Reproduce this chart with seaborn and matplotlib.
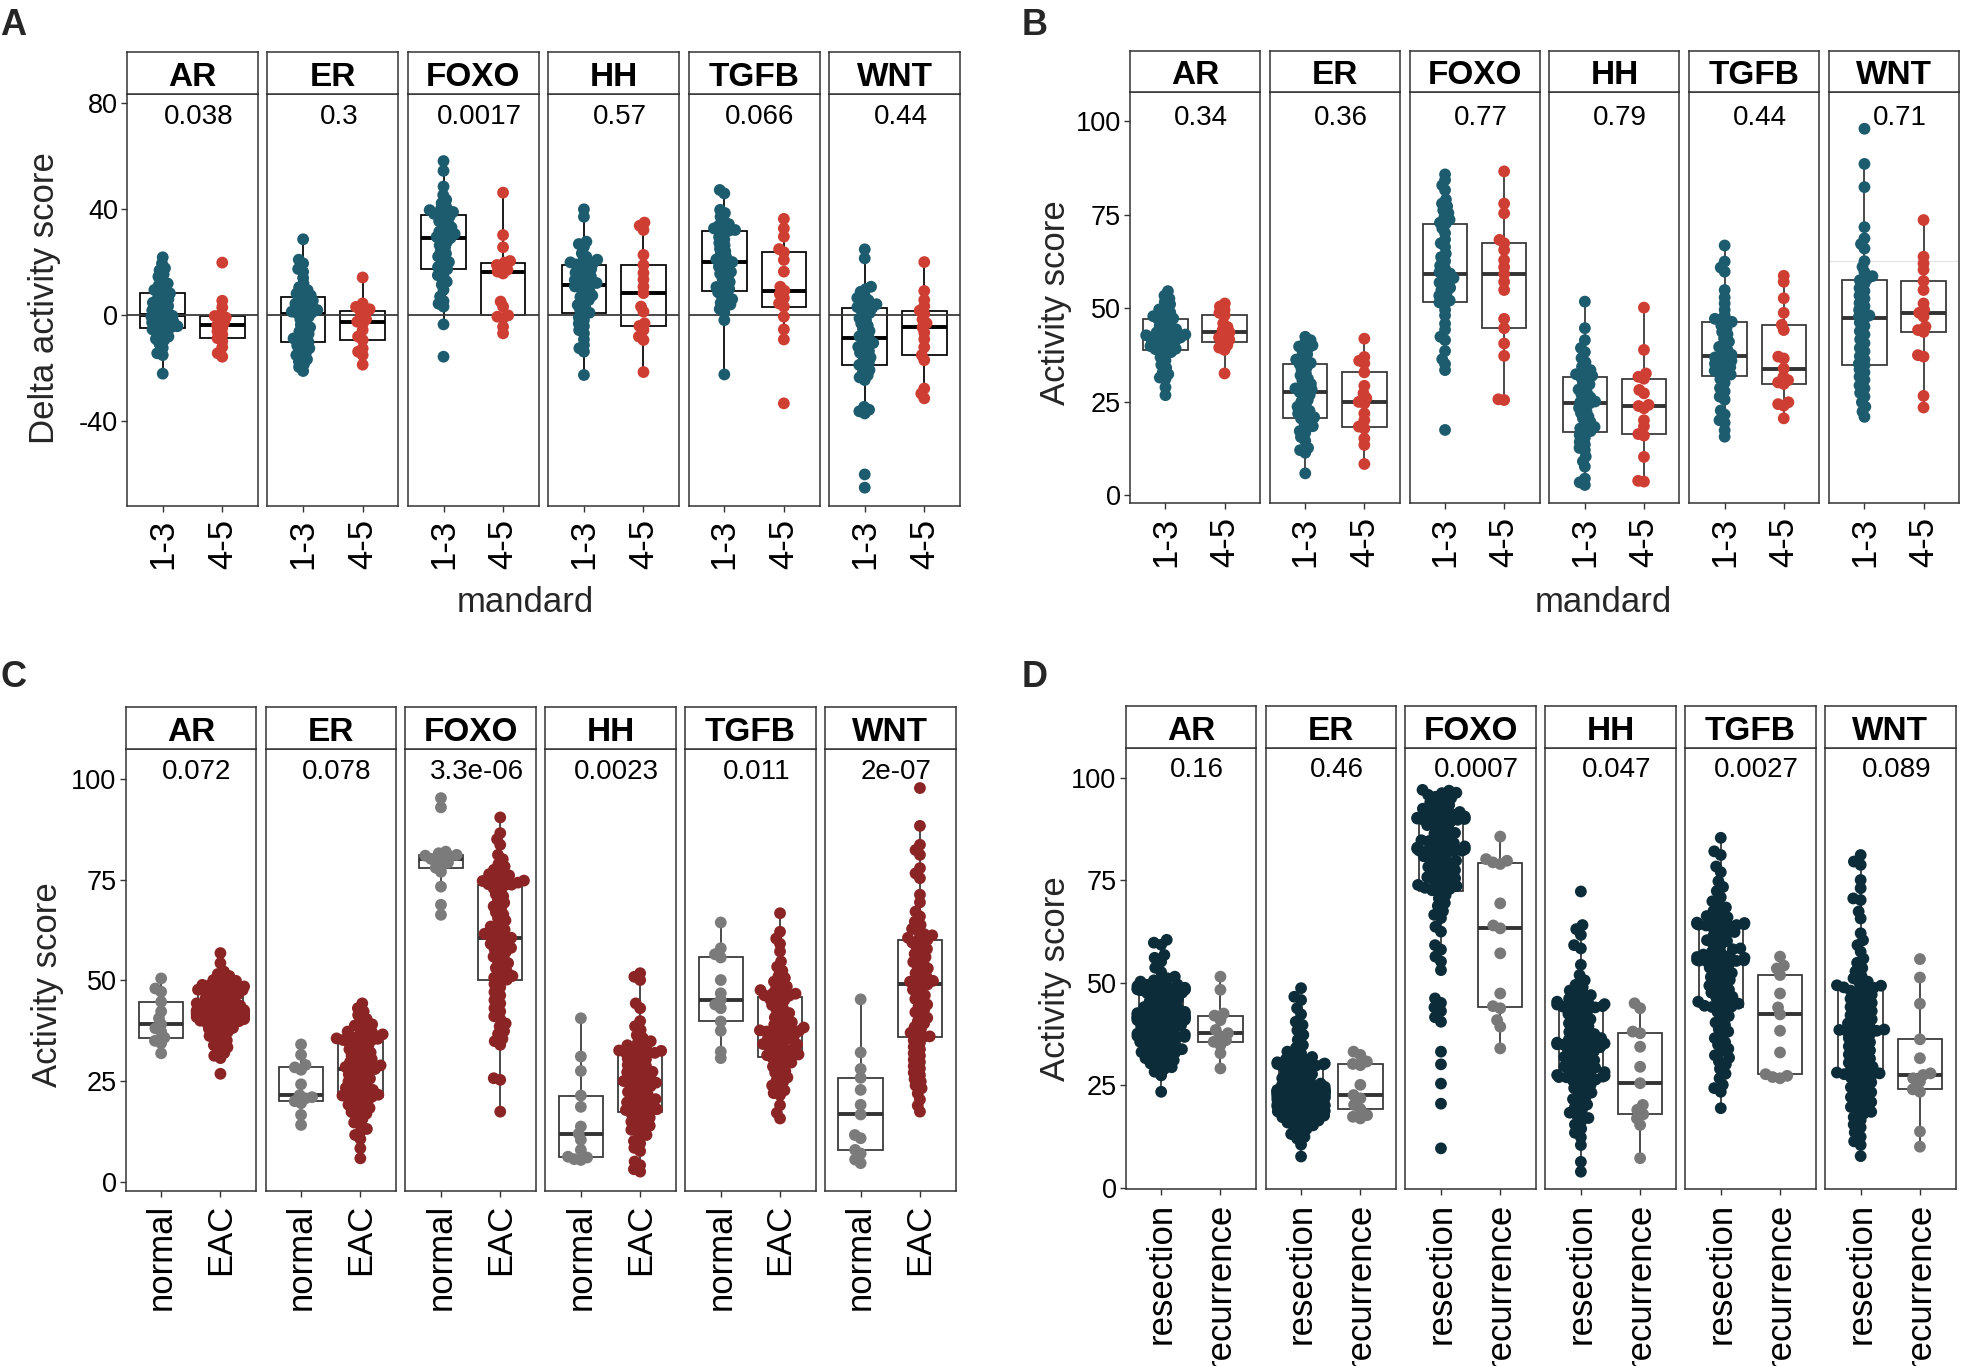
import pandas as pd
import matplotlib
matplotlib.use("Agg")
import matplotlib.pyplot as plt
import seaborn as sns

pathways = ["AR", "ER", "FOXO", "HH", "TGFB", "WNT"]

# ---- panel A: delta activity score by mandard ----
mandard = ["1-3", "4-5"]
a_pvals = ["0.038", "0.3", "0.0017", "0.57", "0.066", "0.44"]
a_ar_13 = [21.9, 19.6, 17.8, 17.0, 15.5, 14.6, 13.2, 12.0, 11.3, 10.4, 9.6, 8.9,
           8.3, 7.6, 6.9, 6.1, 5.6, 4.8, 4.1, 3.5, 2.7, 1.9, 1.3, 0.7,
           0.25, -0.2, -0.5, -1.1, -1.4, -2.0, -2.4, -2.7, -3.3, -3.6, -4.1, -4.4,
           -4.7, -5.3, -5.8, -6.6, -7.1, -8.0, -8.9, -9.4, -10.6, -12.3, -14.3, -15.0, -22.0]
a_ar_45 = [19.9, 5.5, 3.0, 0.5, -0.25, -0.8, -1.5, -2.8, -3.8, -4.8, -6.0, -7.2, -8.6,
           -9.8, -12.0, -14.3, -15.6]
a_er_13 = [28.7, 21.0, 19.6, 17.5, 16.4, 14.1, 12.0, 10.6, 9.5, 8.8, 8.2, 7.5,
           7.0, 6.4, 5.5, 4.9, 4.4, 3.6, 3.2, 2.4, 2.0, 1.4, 1.1, 0.8,
           0.5, -0.6, -1.5, -2.4, -3.6, -4.5, -5.2, -6.1, -7.0, -7.7, -8.7, -9.4,
           -10.1, -10.9, -11.4, -12.4, -13.0, -14.1, -15.0, -15.6, -16.6, -17.4, -18.4, -19.5, -21.0]
a_er_45 = [14.3, 4.5, 3.2, 2.3, 1.8, 0.8, -0.5, -1.5, -2.4, -3.2, -5.5, -8.0, -9.3,
           -12.5, -13.7, -15.0, -18.6]
a_foxo_13 = [58.2, 54.5, 48.6, 45.4, 43.6, 42.3, 41.0, 40.1, 39.7, 39.0, 38.7, 38.3,
             38.0, 37.3, 36.6, 35.5, 34.9, 33.9, 33.2, 32.2, 31.6, 30.7, 30.3, 29.6,
             29.2, 28.4, 27.6, 26.4, 25.6, 24.2, 23.3, 22.2, 21.4, 20.1, 19.3, 18.2,
             17.4, 16.6, 15.1, 14.6, 12.7, 11.6, 9.6, 7.1, 5.4, 4.4, 3.3, -3.4, -15.6]
a_foxo_45 = [46.3, 30.3, 25.7, 20.5, 19.9, 19.0, 18.0, 17.2, 16.5, 15.8, 5.2, 3.3, 0.0,
             -0.5, -1.0, -4.3, -6.8]
a_hh_13 = [40.0, 37.2, 27.8, 26.9, 25.9, 23.4, 22.1, 21.0, 20.4, 20.0, 19.6, 19.2,
           19.0, 18.4, 17.5, 17.0, 16.1, 15.6, 14.7, 14.1, 13.3, 12.9, 12.2, 11.9,
           11.6, 10.9, 10.3, 9.3, 8.6, 7.5, 6.9, 5.8, 5.1, 3.9, 3.1, 2.0,
           1.0, 0.4, -0.8, -1.8, -3.1, -4.1, -5.6, -6.8, -9.1, -11.2, -12.4, -13.7, -22.5]
a_hh_45 = [35.0, 33.8, 32.2, 22.8, 19.0, 16.0, 13.5, 10.8, 8.4, 3.3, 1.4, -3.0, -4.0,
           -5.5, -8.0, -9.3, -21.4]
a_tgfb_13 = [47.3, 46.0, 39.8, 38.6, 37.2, 35.6, 34.4, 33.9, 33.1, 32.8, 32.2, 32.0,
             31.7, 30.9, 29.5, 28.6, 27.3, 26.4, 25.1, 24.2, 22.9, 22.1, 21.1, 20.6,
             20.1, 19.4, 18.3, 17.5, 16.4, 15.7, 14.6, 13.8, 12.6, 11.8, 10.7, 10.0,
             9.3, 8.7, 7.7, 7.1, 6.1, 5.6, 4.7, 4.1, 3.3, 2.4, 1.1, -1.8, -22.3]
a_tgfb_45 = [36.4, 32.8, 29.7, 25.0, 23.8, 20.9, 16.5, 10.8, 9.3, 8.0, 6.5, 4.5, 3.3,
             -0.5, -5.3, -9.1, -33.2]
a_wnt_13 = [24.9, 21.5, 10.8, 9.9, 8.9, 7.4, 6.6, 5.7, 5.1, 4.2, 3.8, 3.1,
            2.8, 2.1, 0.9, 0.1, -1.1, -1.9, -3.1, -3.9, -5.1, -5.9, -7.1, -7.9,
            -8.7, -9.4, -10.4, -10.9, -11.9, -12.5, -13.5, -14.1, -15.1, -15.9, -17.1, -17.9,
            -18.7, -19.4, -20.6, -21.4, -22.6, -23.4, -24.4, -34.5, -35.6, -36.2, -37.0, -60.0, -65.0]
a_wnt_45 = [20.1, 9.2, 5.8, 3.5, 1.8, 0.5, -1.5, -3.0, -4.5, -6.5, -9.0, -12.0, -15.0,
            -16.9, -27.6, -29.5, -31.3]

# ---- panel B: activity score by mandard ----
b_pvals = ["0.34", "0.36", "0.77", "0.79", "0.44", "0.71"]
b_ar_13 = [54.6, 53.4, 52.6, 51.7, 51.1, 50.2, 49.7, 48.9, 48.6, 47.9, 47.6, 47.3,
           47.1, 46.5, 46.1, 45.4, 45.1, 44.4, 44.2, 43.6, 43.4, 43.0, 42.8, 42.6,
           42.4, 42.2, 42.0, 41.8, 41.4, 41.3, 40.7, 40.5, 39.9, 39.7, 39.2, 39.1,
           38.9, 38.3, 37.9, 36.9, 36.1, 34.9, 34.1, 32.9, 32.4, 31.5, 31.1, 28.9, 26.8]
b_ar_45 = [51.3, 50.5, 49.6, 48.8, 48.1, 46.0, 45.0, 44.2, 43.6, 42.8, 42.2, 41.6, 41.0,
           40.2, 39.5, 38.9, 32.6]
b_er_13 = [42.4, 41.5, 40.9, 40.1, 39.8, 39.2, 38.6, 37.7, 37.1, 36.3, 35.9, 35.4,
           35.1, 34.3, 33.7, 32.7, 32.1, 31.2, 30.7, 29.8, 29.4, 28.6, 28.3, 27.9,
           27.6, 26.9, 26.4, 25.5, 25.0, 24.1, 23.7, 22.9, 22.6, 21.9, 21.6, 20.9,
           20.6, 19.9, 19.4, 18.5, 18.1, 17.2, 16.7, 15.6, 14.6, 12.7, 12.1, 11.4, 5.9]
b_er_45 = [41.9, 37.0, 36.0, 35.3, 32.9, 29.3, 27.3, 26.0, 25.0, 24.6, 21.9, 20.1, 18.4,
           17.9, 15.2, 13.5, 8.4]
b_foxo_13 = [85.8, 84.3, 82.9, 81.6, 79.1, 78.0, 77.3, 76.2, 75.5, 74.4, 73.7, 72.9,
             72.6, 71.4, 70.1, 68.4, 67.4, 66.4, 64.6, 63.7, 62.6, 61.4, 60.6, 59.7,
             59.3, 58.9, 58.1, 57.7, 56.9, 56.4, 55.5, 54.9, 54.3, 53.4, 52.9, 52.1,
             51.6, 51.2, 49.6, 48.1, 45.9, 44.3, 42.4, 41.5, 38.6, 36.4, 35.1, 33.5, 17.5]
b_foxo_45 = [86.6, 78.0, 75.4, 68.3, 67.4, 65.6, 62.9, 61.0, 59.2, 57.1, 54.9, 47.2, 44.7,
             40.6, 37.3, 25.7, 25.5]
b_hh_13 = [51.8, 44.7, 41.5, 39.4, 38.3, 36.7, 35.6, 34.4, 33.5, 33.1, 32.4, 32.0,
           31.6, 31.1, 30.2, 29.7, 28.8, 28.3, 27.4, 27.0, 26.2, 25.8, 25.1, 24.9,
           24.6, 23.9, 23.4, 22.5, 22.0, 21.1, 20.6, 19.7, 19.2, 18.3, 17.9, 17.2,
           17.0, 16.1, 15.4, 14.3, 13.6, 12.7, 12.1, 10.4, 9.1, 7.7, 4.5, 3.5, 2.8]
b_hh_45 = [50.2, 38.9, 32.6, 31.7, 31.2, 28.2, 27.3, 24.2, 23.9, 23.3, 20.1, 18.5, 16.4,
           16.0, 10.3, 3.9, 3.7]
b_tgfb_13 = [66.8, 62.5, 60.9, 59.8, 54.9, 52.9, 51.3, 49.6, 48.1, 47.2, 46.9, 46.4,
             46.3, 45.4, 44.7, 43.7, 43.1, 41.9, 41.1, 40.1, 39.7, 38.8, 38.4, 37.6,
             37.3, 36.9, 36.6, 36.0, 35.8, 35.2, 35.0, 34.3, 33.9, 33.3, 32.9, 32.3,
             32.0, 31.1, 30.1, 28.7, 27.8, 26.4, 25.6, 22.7, 21.6, 20.1, 19.4, 17.4, 15.7]
b_tgfb_45 = [58.7, 57.1, 52.7, 48.8, 45.6, 44.2, 37.1, 36.6, 33.9, 31.7, 30.8, 30.2, 29.8,
             24.9, 24.4, 24.0, 20.6]
b_wnt_13 = [98.0, 88.6, 82.4, 71.7, 68.7, 67.2, 66.0, 62.6, 61.1, 59.7, 58.6, 57.9,
            57.5, 56.6, 55.4, 54.6, 53.4, 52.6, 51.4, 50.6, 49.6, 49.0, 48.1, 47.8,
            47.3, 46.2, 45.3, 43.9, 43.0, 41.7, 40.7, 39.4, 38.5, 37.2, 36.3, 35.2,
            34.8, 33.7, 32.9, 31.7, 30.9, 29.4, 28.6, 27.4, 26.4, 24.9, 23.7, 22.4, 21.0]
b_wnt_45 = [73.6, 63.8, 62.0, 60.3, 57.3, 54.9, 51.3, 49.6, 48.8, 47.8, 45.1, 44.2, 43.7,
            37.5, 37.1, 26.6, 23.5]

# ---- panel C: normal vs EAC ----
tissue = ["normal", "EAC"]
c_pvals = ["0.072", "0.078", "3.3e-06", "0.0023", "0.011", "2e-07"]
c_ar_n = [50.5, 48.0, 47.2, 44.7, 42.3, 40.6, 39.1, 38.1, 37.3, 35.8, 35.0, 34.4, 31.9]
c_ar_e = [56.8, 54.3, 52.2, 51.6, 51.1, 50.6, 50.1, 49.9, 49.5, 49.3, 48.9, 48.8, 48.5, 48.4,
          48.1, 48.0, 47.7, 47.6, 47.4, 47.2,
          47.1, 46.7, 46.5, 46.1, 45.9, 45.5, 45.3, 44.9, 44.7, 44.3, 44.1, 43.8, 43.7, 43.4,
          43.3, 43.0, 42.9, 42.6, 42.5, 42.4,
          42.3, 42.2, 42.1, 42.0, 41.9, 41.85, 41.7, 41.6, 41.5, 41.45, 41.3, 41.2, 41.0, 40.9,
          40.7, 40.6, 40.4, 40.2, 40.0, 39.9,
          39.8, 39.5, 39.1, 38.9, 38.6, 38.2, 38.0, 37.5, 37.2, 36.8, 36.2, 35.8, 35.1, 34.6,
          33.9, 33.4, 32.7, 32.0, 31.3, 30.7, 26.8]
c_er_n = [34.1, 31.5, 29.0, 28.4, 27.8, 24.2, 21.5, 21.0, 20.7, 20.0, 19.5, 16.6, 14.1]
c_er_e = [44.3, 43.1, 42.3, 41.4, 40.4, 39.9, 39.1, 38.8, 38.1, 37.9, 37.3, 37.1, 36.6, 36.5,
          36.0, 35.9, 35.6, 35.5, 35.2, 35.1,
          35.0, 34.5, 34.3, 33.7, 33.5, 32.9, 32.6, 32.1, 31.9, 31.3, 31.1, 30.5, 30.2, 29.7,
          29.5, 29.1, 28.9, 28.5, 28.4, 28.2,
          28.0, 27.5, 27.3, 26.7, 26.5, 25.9, 25.6, 25.1, 24.9, 24.3, 24.0, 23.5, 23.3, 22.8,
          22.6, 22.2, 22.0, 21.6, 21.4, 21.2,
          21.1, 20.7, 20.5, 19.9, 19.7, 19.1, 18.9, 18.3, 17.9, 17.3, 16.9, 16.2, 15.6, 14.7,
          14.1, 13.1, 12.5, 11.6, 10.6, 8.3, 5.8]
c_foxo_n = [95.3, 93.0, 82.0, 81.6, 81.2, 81.0, 80.8, 80.5, 80.2, 79.8, 79.3, 78.6, 78.0,
            77.0, 73.3, 68.8, 66.3]
c_foxo_e = [90.5, 86.6, 85.1, 83.7, 81.2, 80.1, 78.9, 78.3, 77.5, 77.1, 76.4, 76.1, 75.5, 75.3,
            74.8, 74.7, 74.3, 74.2, 73.9, 73.8,
            73.7, 72.9, 72.4, 71.4, 70.9, 69.9, 69.3, 68.4, 67.9, 66.9, 66.4, 65.4, 64.9, 63.9,
            63.4, 62.6, 62.3, 61.6, 61.3, 60.9,
            60.6, 60.1, 59.8, 59.1, 58.8, 58.1, 57.8, 57.1, 56.7, 55.9, 55.5, 54.7, 54.3, 53.5,
            53.1, 52.3, 51.9, 51.1, 50.7, 50.2,
            50.0, 49.1, 48.3, 47.1, 46.3, 45.1, 44.3, 43.1, 42.3, 41.1, 40.4, 39.3, 38.6, 37.4,
            36.7, 35.5, 34.9, 34.0, 25.7, 25.3, 17.4]
c_hh_n = [40.6, 31.1, 27.5, 21.4, 18.6, 13.7, 11.9, 10.4, 7.9, 6.2, 6.0, 5.6, 5.4]
c_hh_e = [51.8, 50.9, 50.1, 44.3, 43.1, 39.9, 38.6, 37.7, 36.4, 35.7, 34.9, 34.6, 33.9, 33.7,
          33.2, 33.1, 32.6, 32.5, 32.1, 32.0,
          31.9, 31.4, 31.2, 30.6, 30.4, 29.8, 29.6, 29.0, 28.8, 28.2, 28.0, 27.3, 27.2, 26.6,
          26.4, 25.8, 25.6, 25.0, 24.9, 24.6,
          24.4, 23.9, 23.7, 23.1, 22.9, 22.3, 22.1, 21.5, 21.3, 20.7, 20.5, 19.9, 19.7, 19.3,
          19.1, 18.6, 18.4, 18.0, 17.8, 17.6,
          17.4, 16.9, 16.6, 15.9, 15.6, 14.9, 14.6, 13.9, 13.6, 12.9, 12.6, 11.6, 11.1, 10.1,
          9.5, 8.4, 7.6, 5.0, 4.1, 3.1, 2.5]
c_tgfb_n = [64.4, 58.0, 56.5, 55.7, 50.1, 46.8, 45.2, 44.0, 43.1, 39.8, 37.5, 32.3, 30.7]
c_tgfb_e = [66.7, 62.1, 60.4, 59.1, 57.2, 54.7, 53.4, 52.4, 51.1, 50.6, 49.7, 49.3, 48.5, 48.2,
            47.6, 47.4, 46.8, 46.7, 46.3, 46.2,
            46.0, 45.4, 45.1, 44.3, 43.9, 43.1, 42.7, 41.9, 41.5, 40.8, 40.5, 39.8, 39.6, 39.0,
            38.8, 38.3, 38.2, 37.7, 37.6, 37.4,
            37.3, 36.9, 36.8, 36.3, 36.2, 35.6, 35.5, 34.9, 34.8, 34.2, 34.1, 33.6, 33.5, 32.9,
            32.8, 32.3, 32.1, 31.6, 31.4, 31.2,
            31.1, 30.6, 30.3, 29.6, 29.3, 28.6, 28.3, 27.5, 27.1, 26.3, 25.9, 25.1, 24.7, 23.9,
            23.5, 22.7, 22.0, 21.5, 19.0, 17.1, 15.7]
c_wnt_n = [45.3, 32.1, 28.0, 25.8, 22.8, 19.1, 16.7, 11.6, 10.8, 7.9, 7.0, 5.5, 4.6]
c_wnt_e = [97.8, 88.4, 83.7, 82.4, 81.2, 77.9, 76.6, 75.4, 71.3, 69.4, 67.1, 65.9, 64.6, 63.8,
           62.8, 62.3, 61.5, 61.2, 60.6, 60.4,
           60.1, 59.4, 59.0, 58.2, 57.8, 57.0, 56.6, 55.8, 55.4, 54.6, 54.2, 53.4, 53.0, 52.2,
           51.8, 51.0, 50.6, 49.9, 49.7, 49.2,
           49.0, 48.2, 47.7, 46.8, 46.3, 45.4, 44.9, 44.0, 43.5, 42.6, 42.1, 41.2, 40.7, 39.8,
           39.3, 38.4, 37.9, 37.0, 36.6, 36.1,
           35.9, 35.1, 34.5, 33.5, 32.9, 31.9, 31.3, 30.3, 29.7, 28.7, 28.1, 27.1, 26.5, 25.5,
           24.9, 23.9, 23.2, 21.9, 20.4, 18.9, 17.4]

# ---- panel D: resection vs recurrence ----
sample = ["resection", "recurrence"]
d_pvals = ["0.16", "0.46", "0.0007", "0.047", "0.0027", "0.089"]
d_ar_res = [60.5, 59.8, 59.3, 56.8, 56.1, 55.2, 53.7, 52.6, 51.5, 51.1, 50.6, 50.3, 50.1,
            49.6, 49.5, 49.2, 49.1, 48.8, 48.7, 48.6, 48.5, 48.4, 48.3, 48.2, 48.1,
            48.0, 47.6, 47.5, 47.0, 46.9, 46.3, 46.1, 45.5, 45.4, 44.8, 44.7, 44.1, 44.0,
            43.6, 43.4, 43.1, 42.9, 42.6, 42.5, 42.3, 42.2, 42.0, 41.9, 41.8, 41.75,
            41.7, 41.6, 41.5, 41.45, 41.3, 41.2, 41.0, 40.9, 40.6, 40.5, 40.1, 40.0, 39.7,
            39.4, 39.0, 38.8, 38.4, 38.2, 37.9, 37.6, 37.4, 37.2, 37.0, 36.8, 36.7,
            36.6, 36.3, 36.0, 35.6, 35.4, 35.0, 34.8, 34.3, 34.2, 33.8, 33.6, 33.1, 33.0,
            32.6, 32.4, 31.9, 31.6, 31.1, 30.8, 30.3, 30.0, 29.4, 29.0, 28.3, 27.4, 23.4]
d_ar_rec = [51.5, 48.3, 42.5, 42.0, 40.9, 38.5, 37.7, 37.0, 36.0, 35.6, 34.8, 32.8, 29.1]
d_er_res = [48.7, 46.6, 45.8, 43.8, 42.3, 40.5, 39.7, 38.4, 37.3, 36.1, 34.8, 34.1, 33.2,
            32.8, 32.1, 31.9, 31.3, 31.2, 30.7, 30.6, 30.3, 30.2, 30.1, 30.0, 29.9,
            29.8, 29.3, 29.1, 28.5, 28.3, 27.7, 27.5, 26.9, 26.7, 26.2, 26.0, 25.6, 25.4,
            25.1, 24.9, 24.6, 24.5, 24.2, 24.1, 23.9, 23.85, 23.7, 23.65, 23.6, 23.55,
            23.5, 23.4, 23.35, 23.2, 23.1, 23.0, 22.95, 22.8, 22.7, 22.65, 22.5, 22.4, 22.2,
            22.15, 21.9, 21.8, 21.5, 21.35, 21.1, 20.95, 20.7, 20.6, 20.3, 20.15, 19.9,
            19.8, 19.6, 19.5, 19.2, 19.1, 18.7, 18.6, 18.3, 18.1, 17.8, 17.6, 17.2, 17.0,
            16.6, 16.4, 15.9, 15.7, 15.2, 14.9, 14.3, 13.7, 13.1, 12.4, 12.0, 10.5, 7.6]
d_er_rec = [33.2, 32.4, 30.8, 30.2, 29.9, 25.1, 22.6, 21.8, 20.2, 19.2, 17.7, 17.3, 16.9]
d_foxo_res = [97.1, 96.9, 96.4, 96.3, 95.9, 95.4, 95.1, 94.4, 94.1, 93.4, 93.1, 92.5, 92.3,
              91.7, 91.6, 91.1, 91.0, 90.6, 90.6, 90.3, 90.2, 90.1, 90.0, 89.95, 89.9,
              89.8, 89.3, 89.1, 88.5, 88.3, 87.6, 87.3, 86.6, 86.4, 85.7, 85.5, 84.8, 84.6,
              84.1, 83.9, 83.5, 83.3, 83.0, 82.9, 82.7, 82.6, 82.5, 82.4, 82.3, 82.25,
              82.2, 81.7, 81.5, 80.9, 80.7, 80.0, 79.8, 79.2, 79.0, 78.3, 78.1, 77.5, 77.2,
              76.6, 76.4, 75.8, 75.5, 75.0, 74.7, 74.3, 73.9, 73.6, 73.2, 72.9, 72.6,
              72.5, 71.4, 70.6, 69.5, 68.8, 67.5, 66.6, 65.8, 63.7, 62.5, 59.2, 58.1, 56.4,
              55.2, 53.1, 46.2, 45.1, 44.0, 43.1, 41.6, 40.5, 33.2, 30.1, 25.4, 20.5, 9.6]
d_foxo_rec = [85.7, 80.2, 79.8, 79.4, 79.0, 69.4, 64.0, 63.3, 57.2, 47.4, 44.3, 43.8, 40.9,
              39.3, 34.0]
d_hh_res = [72.3, 64.1, 63.1, 61.7, 59.2, 58.4, 54.4, 51.9, 50.6, 49.5, 48.9, 48.1, 47.7,
            47.0, 46.7, 46.1, 45.9, 45.4, 45.3, 44.8, 44.7, 44.5, 44.3, 44.2, 44.1,
            44.0, 43.4, 43.1, 42.4, 42.1, 41.4, 41.1, 40.4, 40.1, 39.4, 39.1, 38.4, 38.0,
            37.5, 37.3, 36.8, 36.5, 36.1, 35.9, 35.6, 35.4, 35.2, 35.0, 34.9, 34.85,
            34.8, 34.3, 34.1, 33.5, 33.3, 32.7, 32.5, 31.9, 31.6, 31.1, 30.8, 30.3, 30.0,
            29.6, 29.3, 28.9, 28.6, 28.2, 28.0, 27.7, 27.5, 27.3, 27.1, 27.0, 26.95,
            26.9, 26.4, 26.1, 25.4, 25.1, 24.3, 24.0, 23.2, 22.9, 22.1, 21.6, 20.9, 20.3,
            19.6, 19.0, 18.3, 17.7, 17.0, 16.3, 15.4, 14.4, 13.4, 12.3, 10.4, 6.3, 3.9]
d_hh_rec = [45.0, 43.8, 38.1, 37.7, 34.4, 29.5, 25.5, 20.2, 19.0, 17.9, 16.9, 15.3, 7.2]
d_tgfb_res = [85.4, 82.1, 81.2, 78.4, 77.0, 74.8, 73.4, 72.4, 70.9, 69.9, 68.9, 68.4, 67.5,
              67.1, 66.3, 66.0, 65.4, 65.2, 64.7, 64.6, 64.4, 64.3, 64.2, 64.1, 64.0,
              63.9, 63.4, 63.2, 62.4, 62.2, 61.4, 61.2, 60.4, 60.2, 59.4, 59.2, 58.4, 58.2,
              57.6, 57.4, 56.9, 56.6, 56.3, 56.1, 55.9, 55.7, 55.6, 55.5, 55.4, 55.35,
              55.3, 54.7, 54.4, 53.7, 53.4, 52.7, 52.4, 51.7, 51.4, 50.7, 50.4, 49.6, 49.3,
              48.6, 48.3, 47.6, 47.3, 46.6, 46.3, 45.7, 45.4, 44.9, 44.7, 44.4, 44.2,
              44.1, 43.4, 42.9, 41.9, 41.4, 40.3, 39.7, 38.7, 38.1, 37.1, 36.5, 35.5, 34.9,
              33.9, 33.3, 32.3, 31.7, 30.8, 30.1, 29.0, 27.8, 26.7, 25.1, 24.3, 23.4, 19.4]
d_tgfb_rec = [56.4, 54.2, 53.5, 51.9, 47.4, 44.0, 42.3, 38.3, 33.0, 27.7, 27.3, 27.0, 26.7]
d_wnt_res = [81.2, 79.6, 78.8, 75.1, 73.1, 70.6, 70.2, 67.4, 65.7, 62.1, 60.4, 59.2, 57.6,
             55.9, 54.9, 53.6, 52.8, 51.7, 51.1, 50.3, 50.0, 49.4, 49.3, 48.9, 48.8,
             48.7, 48.1, 47.8, 47.1, 46.8, 46.1, 45.8, 45.1, 44.8, 44.1, 43.8, 43.1, 42.8,
             42.1, 41.8, 41.1, 40.8, 40.1, 39.9, 39.3, 39.1, 38.6, 38.5, 38.3, 38.2,
             38.1, 37.5, 37.2, 36.5, 36.2, 35.5, 35.2, 34.5, 34.2, 33.5, 33.2, 32.5, 32.2,
             31.5, 31.2, 30.5, 30.2, 29.5, 29.3, 28.7, 28.5, 28.1, 27.9, 27.7, 27.6,
             27.5, 26.9, 26.5, 25.7, 25.3, 24.5, 24.1, 23.3, 22.9, 22.1, 21.7, 20.9, 20.5,
             19.7, 19.3, 18.5, 18.1, 17.2, 16.5, 15.4, 14.7, 13.5, 12.4, 11.3, 10.4, 7.7]
d_wnt_rec = [55.8, 51.3, 44.9, 36.2, 31.6, 27.9, 27.5, 26.7, 25.9, 24.0, 23.4, 13.7, 10.0]

# colours
teal, red = "#1d5b6e", "#cf3e32"
grey_c, darkred = "#7b7b7b", "#8b2424"
navy, grey_d = "#0b2c38", "#787878"
EDGE = "#333333"

sns.set_theme(style="ticks")
plt.rcParams["font.family"] = ["Liberation Sans", "DejaVu Sans"]
plt.rcParams["axes.unicode_minus"] = False

W, H = 1961, 1366
fig = plt.figure(figsize=(W / 100, H / 100), dpi=100)
fig.patch.set_facecolor("white")


def px_axes(x0, y0, x1, y1):
    # pixel box (top-left origin) -> figure axes
    return fig.add_axes([x0 / W, 1 - y1 / H, (x1 - x0) / W, (y1 - y0) / H])


def frame(ax):
    for sp in ax.spines.values():
        sp.set_visible(True)
        sp.set_color(EDGE)
        sp.set_linewidth(1.1)


swarms = []


def draw_panel(data, groups, pvals, colors, box_color, left, strip_top, top, bottom,
               ylim, yticks, p_y, width=130.4, step=139.9, hline=False, faint=None,
               pack=4.5):
    for i, name in enumerate(pathways):
        x0 = left + i * step
        ax = px_axes(x0, top, x0 + width, bottom)
        g1, g2 = data[i]
        df = pd.DataFrame({"grp": [groups[0]] * len(g1) + [groups[1]] * len(g2),
                           "val": list(g1) + list(g2)})
        sns.boxplot(data=df, x="grp", y="val", order=groups, color="white", width=0.75,
                    linecolor=box_color, linewidth=1.25, showfliers=False, showcaps=False,
                    medianprops={"linewidth": 2.8}, ax=ax)
        if hline:
            ax.axhline(0, color="#3a3a3a", lw=1.3, zorder=2.5)
        if faint is not None and name == "WNT":
            ax.axhline(faint, color="#e6e6e6", lw=1.0, zorder=0.5)
        n0 = len(ax.collections)
        sns.swarmplot(data=df, x="grp", y="val", order=groups, hue="grp", hue_order=groups,
                      palette=colors, size=pack, linewidth=0, legend=False, zorder=3, ax=ax)
        swarms.extend(ax.collections[n0:])
        ax.set_xlim(-0.6, 1.6)
        ax.set_ylim(*ylim)
        ax.set_xlabel("")
        ax.set_ylabel("")
        ax.set_xticks([0, 1])
        ax.set_xticklabels(groups, rotation=90, fontsize=25)
        ax.tick_params(axis="x", length=4, width=1.0, color=EDGE, pad=5.5, labelcolor="black")
        if i == 0:
            ax.set_yticks(yticks)
            ax.set_yticklabels([str(t) for t in yticks], fontsize=19.5)
            ax.tick_params(axis="y", length=4, width=1.0, color=EDGE, pad=2.5,
                           labelcolor="black")
        else:
            ax.tick_params(axis="y", left=False, labelleft=False)
        ax.text(0.6, p_y, pvals[i], ha="center", va="baseline", fontsize=20, color="black")
        frame(ax)

        sax = px_axes(x0, strip_top, x0 + width, top)
        sax.set_xticks([])
        sax.set_yticks([])
        sax.set_facecolor("white")
        frame(sax)
        sax.text(0.5, 0.19, name, ha="center", va="baseline", fontsize=24,
                 fontweight="bold", color="black", transform=sax.transAxes)


draw_panel([(a_ar_13, a_ar_45), (a_er_13, a_er_45), (a_foxo_13, a_foxo_45),
            (a_hh_13, a_hh_45), (a_tgfb_13, a_tgfb_45), (a_wnt_13, a_wnt_45)],
           mandard, a_pvals, [teal, red], "black",
           left=127, strip_top=52, top=94, bottom=505.7, ylim=(-71.8, 83.5),
           yticks=[80, 40, 0, -40], p_y=72.1, width=131, step=140.4, hline=True, pack=4.0)

draw_panel([(b_ar_13, b_ar_45), (b_er_13, b_er_45), (b_foxo_13, b_foxo_45),
            (b_hh_13, b_hh_45), (b_tgfb_13, b_tgfb_45), (b_wnt_13, b_wnt_45)],
           mandard, b_pvals, [teal, red], EDGE,
           left=1130, strip_top=50.6, top=91.7, bottom=503.3, ylim=(-2.1, 107.9),
           yticks=[0, 25, 50, 75, 100], p_y=99.1, width=130, step=139.8, faint=62.6,
           pack=4.0)

draw_panel([(c_ar_n, c_ar_e), (c_er_n, c_er_e), (c_foxo_n, c_foxo_e),
            (c_hh_n, c_hh_e), (c_tgfb_n, c_tgfb_e), (c_wnt_n, c_wnt_e)],
           tissue, c_pvals, [grey_c, darkred], EDGE,
           left=125.6, strip_top=706.8, top=749, bottom=1190.7, ylim=(-2.24, 107.5),
           yticks=[0, 25, 50, 75, 100], p_y=100.0, pack=4.6)

draw_panel([(d_ar_res, d_ar_rec), (d_er_res, d_er_rec), (d_foxo_res, d_foxo_rec),
            (d_hh_res, d_hh_rec), (d_tgfb_res, d_tgfb_rec), (d_wnt_res, d_wnt_rec)],
           sample, d_pvals, [navy, grey_d], EDGE,
           left=1125.6, strip_top=706, top=748.3, bottom=1189.3, ylim=(-0.4, 107.25),
           yticks=[0, 25, 50, 75, 100], p_y=100.3, pack=5.2)

# axis titles
fig.text(45 / W, 1 - 298 / H, "Delta activity score", rotation=90, ha="center", va="center",
         fontsize=25)
fig.text(1056 / W, 1 - 303 / H, "Activity score", rotation=90, ha="center", va="center",
         fontsize=25)
fig.text(48 / W, 1 - 985 / H, "Activity score", rotation=90, ha="center", va="center",
         fontsize=25)
fig.text(1056 / W, 1 - 979 / H, "Activity score", rotation=90, ha="center", va="center",
         fontsize=25)
fig.text(525 / W, 1 - 612 / H, "mandard", ha="center", va="baseline", fontsize=25)
fig.text(1603 / W, 1 - 612 / H, "mandard", ha="center", va="baseline", fontsize=25)

# panel letters
for letter, x, y in [("A", 0, 8), ("B", 1022, 8), ("C", 0, 660), ("D", 1022, 660)]:
    fig.text(x / W, 1 - y / H, letter, ha="left", va="top", fontsize=26, fontweight="bold")

# lay the swarms out with a small marker, then freeze positions and enlarge the dots
fig.canvas.draw()
for coll in swarms:
    if "draw" in vars(coll):
        del coll.draw
    coll.set_sizes([8.5 ** 2])

fig.savefig("out.png", dpi=100, facecolor="white")
